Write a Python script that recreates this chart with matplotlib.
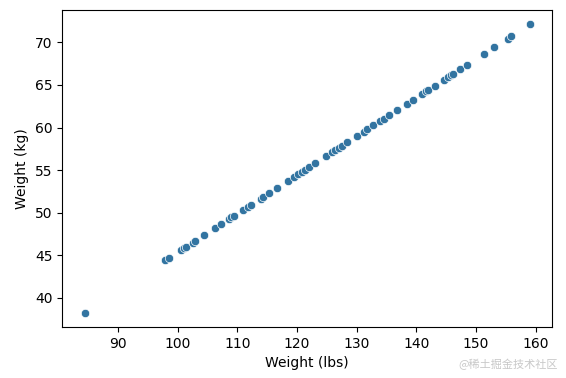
import matplotlib
matplotlib.use("Agg")
import matplotlib.pyplot as plt
import seaborn as sns

# weights
weight_lbs = [84.4, 97.9, 98.6, 100.6, 101.0, 101.4, 102.5, 103.0, 104.5, 106.2,
              107.2, 108.6, 109.0, 109.5, 110.9, 111.8, 112.3, 113.9, 114.3, 115.3,
              116.6, 118.5, 119.5, 120.2, 120.8, 121.4, 122.0, 123.0, 124.8, 125.9,
              126.4, 127.1, 127.6, 128.4, 130.0, 131.2, 131.8, 132.8, 133.9, 134.6,
              135.4, 136.7, 138.4, 139.5, 141.0, 141.6, 142.0, 143.1, 144.6, 145.3,
              145.8, 146.2, 147.3, 148.5, 151.4, 153.0, 155.3, 155.9, 159.0]
weight_kg = [38.28, 44.41, 44.72, 45.63, 45.81, 45.99, 46.49, 46.72, 47.40, 48.17,
             48.63, 49.26, 49.44, 49.67, 50.30, 50.71, 50.94, 51.66, 51.85, 52.30,
             52.89, 53.75, 54.20, 54.52, 54.79, 55.07, 55.34, 55.79, 56.61, 57.11,
             57.33, 57.65, 57.88, 58.24, 58.97, 59.51, 59.78, 60.24, 60.74, 61.05,
             61.42, 62.01, 62.78, 63.28, 63.96, 64.23, 64.41, 64.91, 65.59, 65.91,
             66.13, 66.32, 66.81, 67.36, 68.68, 69.40, 70.44, 70.72, 72.12]

fig, ax = plt.subplots(figsize=(5.66, 3.78), dpi=100)
fig.subplots_adjust(left=0.11, right=0.975, top=0.974, bottom=0.135)

sns.scatterplot(x=weight_lbs, y=weight_kg, ax=ax, color="#3274a1", s=36)
ax.set_xlabel("Weight (lbs)")
ax.set_ylabel("Weight (kg)")

fig.text(0.985, 0.02, "@稀土掘金技术社区", ha="right", va="bottom", fontsize=8,
         color="#c8c8c8", family=["Noto Sans CJK SC", "DejaVu Sans"])

fig.savefig("out.png", dpi=100)
